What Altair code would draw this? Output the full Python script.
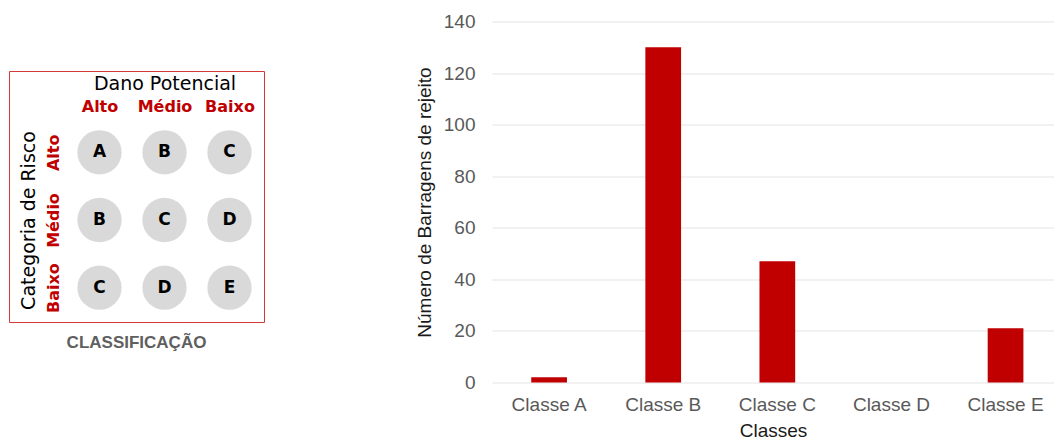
import altair as alt
import pandas as pd

# ---------------- data ----------------
classes = ["Classe A", "Classe B", "Classe C", "Classe D", "Classe E"]
counts = [2, 130, 47, 0, 21]
y_ticks = [0, 20, 40, 60, 80, 100, 120, 140]

dano_levels = ["Alto", "Médio", "Baixo"]
risco_levels = ["Alto", "Médio", "Baixo"]
matrix_row_alto = ["A", "B", "C"]
matrix_row_medio = ["B", "C", "D"]
matrix_row_baixo = ["C", "D", "E"]

RED = "#c00000"
GRAY_TXT = "#595959"
SANS = "Liberation Sans"
DJ = "DejaVu Sans"

# --------------- matrix table ---------------
letters = [matrix_row_alto, matrix_row_medio, matrix_row_baixo]
rows = []
for i, r in enumerate(risco_levels):
    for j, d in enumerate(dano_levels):
        rows.append({"dano": d, "risco": r, "classe": letters[i][j]})
mdf = pd.DataFrame(rows)
one = pd.DataFrame({"k": [0]})

xm = alt.X(
    "dano:N",
    sort=dano_levels,
    scale=alt.Scale(type="point", domain=dano_levels, padding=0.5),
    axis=alt.Axis(
        orient="top", offset=-97, title="Dano Potencial", labelAngle=0,
        ticks=False, domain=False, grid=False,
        labelFont=DJ, labelFontSize=16, labelFontWeight="bold", labelColor=RED,
        labelPadding=4,
        titleFont=DJ, titleFontSize=19, titleFontWeight="normal", titleColor="black",
        titlePadding=5,
    ),
)
ym = alt.Y(
    "risco:N",
    sort=risco_levels,
    scale=alt.Scale(type="point", domain=risco_levels, padding=0.5, range=[97, 300]),
    axis=alt.Axis(
        orient="left", title="Categoria de Risco", labelAngle=270,
        ticks=False, domain=False, grid=False,
        labelFont=DJ, labelFontSize=16, labelFontWeight="bold", labelColor=RED,
        labelPadding=6,
        titleFont=DJ, titleFontSize=19, titleFontWeight="normal", titleColor="black",
        titlePadding=7,
    ),
)

box = alt.Chart(one).mark_rect(
    fillOpacity=0, stroke="#d23a3a", strokeWidth=1
).encode(
    x=alt.value(-57.5), x2=alt.value(197.5), y=alt.value(50), y2=alt.value(301)
)

circles = alt.Chart(mdf).mark_circle(size=1963, color="#d9d9d9", opacity=1).encode(
    x=xm, y=ym
)

labels = alt.Chart(mdf).mark_text(
    font=DJ, fontSize=17, fontWeight="bold", color="black"
).encode(
    x=alt.X("dano:N", sort=dano_levels), y=alt.Y("risco:N", sort=risco_levels),
    text="classe:N"
)

caption = alt.Chart(one).mark_text(
    text="CLASSIFICAÇÃO", font=SANS, fontSize=17, fontWeight="bold", color="#5f5f5f"
).encode(x=alt.value(69.5), y=alt.value(321))

left = alt.layer(box, circles, labels, caption).properties(width=195, height=361)

# --------------- bar chart ---------------
bdf = pd.DataFrame({"classe": classes, "n": counts})

bars = alt.Chart(bdf).mark_bar(color=RED).encode(
    x=alt.X(
        "classe:N", sort=classes,
        scale=alt.Scale(paddingInner=0.687, paddingOuter=0.306, align=0.562),
        axis=alt.Axis(
            title="Classes", labelAngle=0, ticks=False, domain=False, grid=False,
            labelFont=SANS, labelFontSize=19, labelColor=GRAY_TXT, labelPadding=13,
            titleFont=SANS, titleFontSize=19, titleFontWeight="normal",
            titleColor="#1a1a1a", titlePadding=7,
        ),
    ),
    y=alt.Y(
        "n:Q",
        scale=alt.Scale(domain=[0, 140], nice=False),
        axis=alt.Axis(
            title="Número de Barragens de rejeito", values=y_ticks,
            ticks=False, domain=False, grid=True, gridColor="#e3e3e3", gridWidth=1,
            labelFont=SANS, labelFontSize=19, labelColor=GRAY_TXT, labelPadding=17,
            titleFont=SANS, titleFontSize=19, titleFontWeight="normal",
            titleColor="#1a1a1a", titlePadding=9,
        ),
    ),
).properties(width=562, height=361)

chart = alt.hconcat(left, bars, spacing=230, bounds="flush").properties(
    padding={"left": 9, "top": 12.5, "right": 0, "bottom": 0},
    background="white",
).configure_view(strokeWidth=0)

chart.save("out.html", embed_options={"renderer": "svg", "actions": False})
